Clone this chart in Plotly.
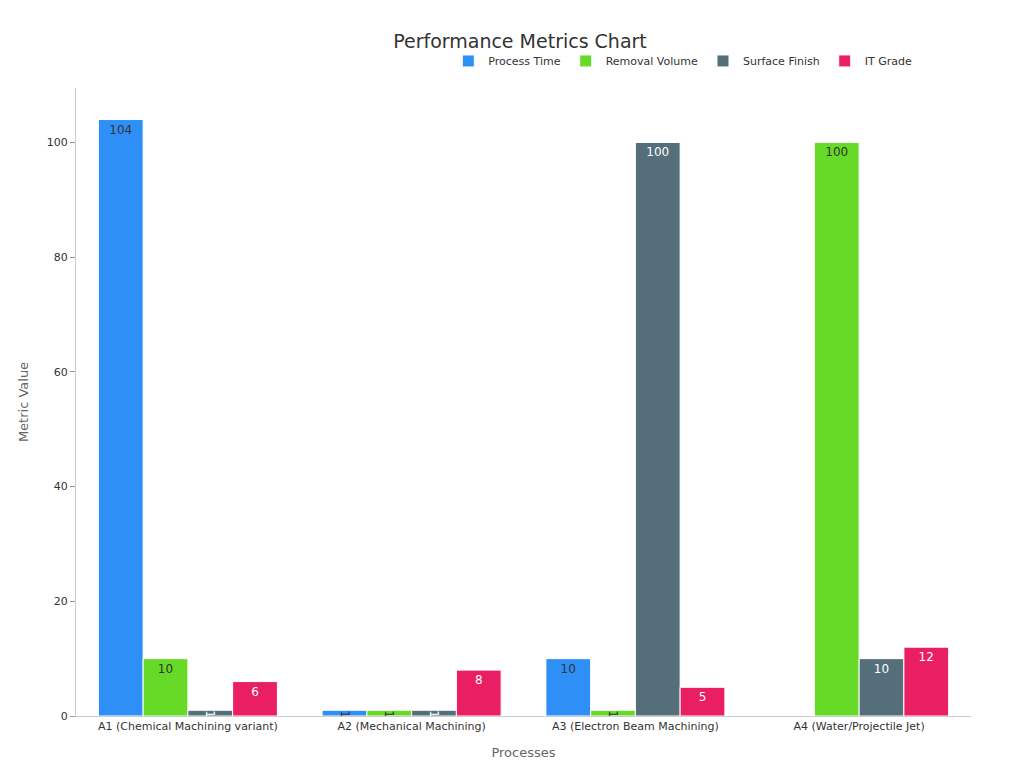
import plotly.graph_objects as go

processes = ["A1 (Chemical Machining variant)", "A2 (Mechanical Machining)",
             "A3 (Electron Beam Machining)", "A4 (Water/Projectile Jet)"]
process_time = [104, 1, 10, None]
removal_volume = [10, 1, 1, 100]
surface_finish = [1, 1, 100, 10]
it_grade = [6, 8, 5, 12]

series = [
    ("Process Time", process_time, "#2E90F7", "#333333"),
    ("Removal Volume", removal_volume, "#66DA26", "#333333"),
    ("Surface Finish", surface_finish, "#546E7A", "#ffffff"),
    ("IT Grade", it_grade, "#E91E63", "#ffffff"),
]

fig = go.Figure()
for name, vals, col, tcol in series:
    fig.add_trace(go.Bar(
        x=processes, y=vals, name=name, marker_color=col,
        marker_line_color="white", marker_line_width=1,
        text=vals, textposition="inside", insidetextanchor="end",
        textfont=dict(color=tcol, size=12),
        constraintext="none",
    ))

fig.update_layout(
    width=1024, height=768,
    template="plotly_white",
    font=dict(family="DejaVu Sans", size=11, color="#333333"),
    title=dict(text="Performance Metrics Chart", x=0.5, y=0.957, xanchor="center",
               yanchor="middle", yref="container",
               font=dict(size=19, color="#333333")),
    legend=dict(orientation="h", x=0.94, xanchor="right", y=1.02, yanchor="bottom",
                font=dict(size=11)),
    barmode="group", bargap=0.2, bargroupgap=0,
    margin=dict(l=68, r=61, t=80, b=60, autoexpand=False),
    plot_bgcolor="white",
    xaxis=dict(title=dict(text="Processes", font=dict(size=13, color="#666666")),
               showgrid=False, showline=True, linecolor="#cccccc"),
    yaxis=dict(title=dict(text="Metric Value", font=dict(size=13, color="#666666")),
               showgrid=False, showline=True, linecolor="#cccccc", zeroline=False,
               ticks="outside", tickcolor="#999999", range=[0, 109.5], dtick=20),
    uniformtext=dict(minsize=8, mode="show"),
)

fig.write_html("out.html")
